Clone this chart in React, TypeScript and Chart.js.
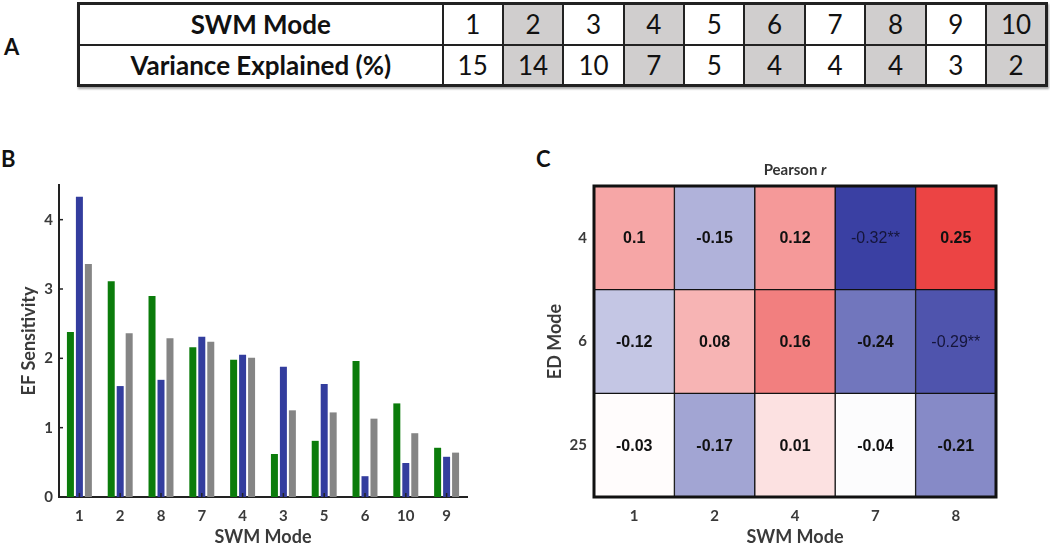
import React, { useEffect, useRef } from 'react';
import { Chart, registerables } from 'chart.js';
Chart.register(...registerables);

// Panel A table
const swmModes = ['1', '2', '3', '4', '5', '6', '7', '8', '9', '10'];
const varianceExplained = [15, 14, 10, 7, 5, 4, 4, 4, 3, 2];

// Panel B bars
const sensitivityModes = ['1', '2', '8', '7', '4', '3', '5', '6', '10', '9'];
const greenValues = [2.38, 3.11, 2.9, 2.16, 1.98, 0.62, 0.81, 1.96, 1.35, 0.71];
const blueValues = [4.33, 1.6, 1.69, 2.31, 2.05, 1.88, 1.63, 0.3, 0.49, 0.58];
const grayValues = [3.36, 2.36, 2.29, 2.24, 2.01, 1.25, 1.22, 1.13, 0.92, 0.64];
const sensitivityTicks = [0, 1, 2, 3, 4];

// Panel C heatmap
const heatSwmModes = ['1', '2', '4', '7', '8'];
const edModes = ['4', '6', '25'];
const rED4 = [0.1, -0.15, 0.12, -0.32, 0.25];
const rED6 = [-0.12, 0.08, 0.16, -0.24, -0.29];
const rED25 = [-0.03, -0.17, 0.01, -0.04, -0.21];
const sigED4 = ['', '', '', '**', ''];
const sigED6 = ['', '', '', '', '**'];
const sigED25 = ['', '', '', '', ''];

const AXIS_FONT = "Lato, 'Open Sans', sans-serif";
const TICK_COLOR = '#3a3a3a';

const allR = [...rED4, ...rED6, ...rED25];
const rMin = Math.min(...allR);
const rMax = Math.max(...allR);
const rMid = (rMin + rMax) / 2;
const rHalf = (rMax - rMin) / 2;
const lowColor = [58, 64, 163];
const highColor = [236, 68, 68];
function heatColor(v: number) {
  const t = (v - rMid) / rHalf;
  const c = t >= 0 ? highColor : lowColor;
  const a = Math.min(1, Math.abs(t));
  const ch = (k: number) => Math.round(255 + (c[k] - 255) * a);
  return `rgb(${ch(0)},${ch(1)},${ch(2)})`;
}

const innerTicksPlugin = {
  id: 'innerTicks',
  afterDatasetsDraw(chart: any) {
    const { ctx, chartArea, scales } = chart;
    const x = scales.x;
    const y = scales.y;
    ctx.save();
    ctx.strokeStyle = '#222';
    ctx.lineWidth = 1.5;
    x.ticks.forEach((_: any, i: number) => {
      const px = x.getPixelForTick(i);
      ctx.beginPath();
      ctx.moveTo(px, chartArea.bottom);
      ctx.lineTo(px, chartArea.bottom - 4);
      ctx.stroke();
    });
    y.ticks.forEach((t: any) => {
      const py = y.getPixelForValue(t.value);
      ctx.beginPath();
      ctx.moveTo(chartArea.left, py);
      ctx.lineTo(chartArea.left + 4, py);
      ctx.stroke();
    });
    ctx.restore();
  },
};

const heatLabelsPlugin = {
  id: 'heatLabels',
  afterDatasetsDraw(chart: any) {
    const { ctx, chartArea } = chart;
    ctx.save();
    chart.data.datasets.forEach((ds: any, di: number) => {
      const meta = chart.getDatasetMeta(di);
      meta.data.forEach((bar: any, i: number) => {
        const v = ds.rValues[i];
        const s = ds.sig[i];
        const cy = (bar.y + bar.base) / 2;
        ctx.textAlign = 'center';
        ctx.textBaseline = 'middle';
        if (s) {
          ctx.font = "16px 'Liberation Sans', Arial, sans-serif";
          ctx.fillStyle = '#15153a';
        } else {
          ctx.font = "bold 16px 'Liberation Sans', Arial, sans-serif";
          ctx.fillStyle = '#111';
        }
        ctx.fillText(String(v) + s, bar.x, cy + 1);
      });
    });
    ctx.lineWidth = 3;
    ctx.strokeStyle = '#111';
    ctx.strokeRect(chartArea.left, chartArea.top, chartArea.right - chartArea.left, chartArea.bottom - chartArea.top);
    // Title "Pearson r"
    const cx = (chartArea.left + chartArea.right) / 2;
    const ty = chartArea.top - 16;
    ctx.fillStyle = '#333';
    ctx.textBaseline = 'middle';
    ctx.font = `bold 15px ${AXIS_FONT}`;
    const w1 = ctx.measureText('Pearson ').width;
    ctx.font = `italic bold 15px ${AXIS_FONT}`;
    const w2 = ctx.measureText('r').width;
    const startX = cx - (w1 + w2) / 2;
    ctx.textAlign = 'left';
    ctx.font = `bold 15px ${AXIS_FONT}`;
    ctx.fillText('Pearson ', startX, ty);
    ctx.font = `italic bold 15px ${AXIS_FONT}`;
    ctx.fillText('r', startX + w1, ty);
    ctx.restore();
  },
};

function BarPanel() {
  const ref = useRef<HTMLCanvasElement>(null);
  useEffect(() => {
    const chart = new Chart(ref.current as HTMLCanvasElement, {
      type: 'bar',
      data: {
        labels: sensitivityModes,
        datasets: [
          { data: greenValues, backgroundColor: '#0b7c0b', categoryPercentage: 0.66, barPercentage: 0.78 },
          { data: blueValues, backgroundColor: '#333d9e', categoryPercentage: 0.66, barPercentage: 0.78 },
          { data: grayValues, backgroundColor: '#858585', categoryPercentage: 0.66, barPercentage: 0.78 },
        ],
      },
      options: {
        animation: false,
        responsive: false,
        layout: { padding: { top: 35, right: 53, left: 14, bottom: 0 } },
        plugins: { legend: { display: false }, tooltip: { enabled: false } },
        scales: {
          x: {
            grid: { display: false, drawTicks: false },
            border: { display: true, color: '#222', width: 2 },
            ticks: { font: { family: AXIS_FONT, size: 15, weight: 'bold' }, color: TICK_COLOR, padding: 10 },
            title: { display: true, text: 'SWM Mode', font: { family: AXIS_FONT, size: 18, weight: 'bold' }, color: TICK_COLOR, padding: { top: 0, bottom: 0 } },
            afterFit: (s: any) => { s.height = 51; },
          },
          y: {
            min: 0,
            max: 4.5,
            grid: { display: false, drawTicks: false },
            border: { display: true, color: '#222', width: 2 },
            afterBuildTicks: (s: any) => { s.ticks = sensitivityTicks.map((v) => ({ value: v })); },
            ticks: { font: { family: AXIS_FONT, size: 15, weight: 'bold' }, color: TICK_COLOR, padding: 6 },
            title: { display: true, text: 'EF Sensitivity', font: { family: AXIS_FONT, size: 18, weight: 'bold' }, color: TICK_COLOR, padding: { top: 4, bottom: 0 } },
            afterFit: (s: any) => { s.width = 45; },
          },
        },
      } as any,
      plugins: [innerTicksPlugin],
    });
    return () => chart.destroy();
  }, []);
  return <canvas ref={ref} width={520} height={398} style={{ width: 520, height: 398, display: 'block' }} />;
}

function HeatPanel() {
  const ref = useRef<HTMLCanvasElement>(null);
  useEffect(() => {
    const rows = [
      { r: rED25, sig: sigED25 },
      { r: rED6, sig: sigED6 },
      { r: rED4, sig: sigED4 },
    ];
    const chart = new Chart(ref.current as HTMLCanvasElement, {
      type: 'bar',
      data: {
        labels: heatSwmModes,
        datasets: rows.map((row) => ({
          data: row.r.map(() => 1),
          rValues: row.r,
          sig: row.sig,
          backgroundColor: row.r.map(heatColor),
          borderColor: '#111',
          borderWidth: 1,
          borderSkipped: false,
          categoryPercentage: 1,
          barPercentage: 1,
        })) as any,
      },
      options: {
        animation: false,
        responsive: false,
        layout: { padding: { top: 36, right: 54, left: 20, bottom: 0 } },
        plugins: { legend: { display: false }, tooltip: { enabled: false } },
        scales: {
          x: {
            stacked: true,
            grid: { display: false, drawTicks: false },
            border: { display: false },
            ticks: { font: { family: AXIS_FONT, size: 15, weight: 'bold' }, color: TICK_COLOR, padding: 10 },
            title: { display: true, text: 'SWM Mode', font: { family: AXIS_FONT, size: 18, weight: 'bold' }, color: TICK_COLOR, padding: { top: 0, bottom: 0 } },
            afterFit: (s: any) => { s.height = 51; },
          },
          y: {
            stacked: true,
            min: 0,
            max: 3,
            grid: { display: false, drawTicks: false },
            border: { display: false },
            afterBuildTicks: (s: any) => { s.ticks = edModes.map((_, i) => ({ value: 2.5 - i })); },
            ticks: {
              font: { family: AXIS_FONT, size: 15, weight: 'bold' },
              color: TICK_COLOR,
              padding: 7,
              callback: (v: any) => edModes[2 - Math.floor(Number(v))],
            },
            title: { display: true, text: 'ED Mode', font: { family: AXIS_FONT, size: 18, weight: 'bold' }, color: TICK_COLOR, padding: { top: 4, bottom: 0 } },
            afterFit: (s: any) => { s.width = 54; },
          },
        },
      } as any,
      plugins: [heatLabelsPlugin],
    });
    return () => chart.destroy();
  }, []);
  return <canvas ref={ref} width={530} height={398} style={{ width: 530, height: 398, display: 'block' }} />;
}

const cellBase: React.CSSProperties = {
  border: '2px solid #222',
  textAlign: 'center',
  verticalAlign: 'middle',
  padding: 0,
  fontFamily: "Lato, 'Open Sans', sans-serif",
  fontSize: 26,
  color: '#111',
};

function TablePanel() {
  return (
    <table
      style={{
        position: 'absolute',
        left: 77,
        top: 2,
        width: 971,
        height: 85,
        borderCollapse: 'collapse',
        border: '3px solid #222',
        tableLayout: 'fixed',
        boxShadow: '1px 2px 2px rgba(0,0,0,0.35)',
      }}
    >
      <colgroup>
        <col style={{ width: 364 }} />
        {swmModes.map((m) => (
          <col key={m} />
        ))}
      </colgroup>
      <tbody>
        <tr>
          <td style={{ ...cellBase, fontWeight: 'bold' }}>SWM Mode</td>
          {swmModes.map((m, i) => (
            <td key={m} style={{ ...cellBase, background: i % 2 === 1 ? '#d0cece' : '#fff' }}>{m}</td>
          ))}
        </tr>
        <tr>
          <td style={{ ...cellBase, fontWeight: 'bold' }}>Variance Explained (%)</td>
          {varianceExplained.map((v, i) => (
            <td key={i} style={{ ...cellBase, background: i % 2 === 1 ? '#d0cece' : '#fff' }}>{v}</td>
          ))}
        </tr>
      </tbody>
    </table>
  );
}

const panelLetter: React.CSSProperties = {
  position: 'absolute',
  fontFamily: "Lato, 'Open Sans', sans-serif",
  fontWeight: 'bold',
  fontSize: 22,
  color: '#111',
  lineHeight: 1,
};

export default function App() {
  return (
    <div style={{ position: 'absolute', left: 0, top: 0, width: 1050, height: 548, background: '#fff', overflow: 'hidden' }}>
      <div style={{ ...panelLetter, left: 4, top: 36 }}>A</div>
      <TablePanel />
      <div style={{ ...panelLetter, left: 1, top: 148 }}>B</div>
      <div style={{ ...panelLetter, left: 536, top: 148 }}>C</div>
      <div style={{ position: 'absolute', left: 0, top: 150 }}>
        <BarPanel />
      </div>
      <div style={{ position: 'absolute', left: 520, top: 150 }}>
        <HeatPanel />
      </div>
    </div>
  );
}
